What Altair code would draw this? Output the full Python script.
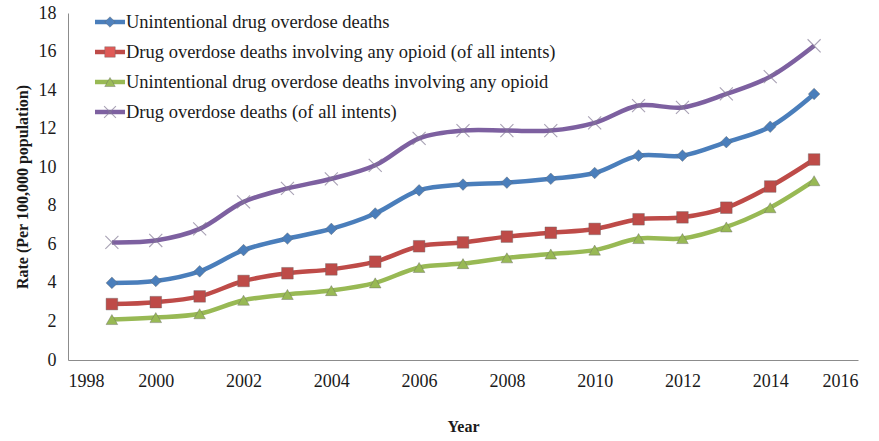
import altair as alt
import pandas as pd

years = list(range(1999, 2016))
series_names = [
    "Unintentional drug overdose deaths",
    "Drug overdose deaths involving any opioid (of all intents)",
    "Unintentional drug overdose deaths involving any opioid",
    "Drug overdose deaths (of all intents)",
]
unintentional = [4.0, 4.1, 4.6, 5.7, 6.3, 6.8, 7.6, 8.8, 9.1, 9.2, 9.4, 9.7, 10.6, 10.6, 11.3, 12.1, 13.8]
opioid_all = [2.9, 3.0, 3.3, 4.1, 4.5, 4.7, 5.1, 5.9, 6.1, 6.4, 6.6, 6.8, 7.3, 7.4, 7.9, 9.0, 10.4]
unint_opioid = [2.1, 2.2, 2.4, 3.1, 3.4, 3.6, 4.0, 4.8, 5.0, 5.3, 5.5, 5.7, 6.3, 6.3, 6.9, 7.9, 9.3]
all_intents = [6.1, 6.2, 6.8, 8.2, 8.9, 9.4, 10.1, 11.5, 11.9, 11.9, 11.9, 12.3, 13.2, 13.1, 13.8, 14.7, 16.3]
x_ticks = list(range(1998, 2017, 2))
y_ticks = list(range(0, 19, 2))

line_colors = ["#4a7ebb", "#be4b48", "#98b954", "#7d60a0"]
marker_fill = ["#4f81bd", "#e05a57", "#9bbb59", "#7d60a0"]
marker_shapes = ["diamond", "square", "triangle-up", "M-1,-1L1,1M-1,1L1,-1"]

rows = []
for name, vals in zip(series_names, [unintentional, opioid_all, unint_opioid, all_intents]):
    for y, v in zip(years, vals):
        rows.append({"year": y, "rate": v, "series": name})
df = pd.DataFrame(rows)

FONT = "Liberation Serif"
color_line = alt.Color("series:N", scale=alt.Scale(domain=series_names, range=line_colors), legend=None)
color_fill = alt.Color("series:N", scale=alt.Scale(domain=series_names, range=marker_fill), legend=None)
shape_scale = alt.Scale(domain=series_names[:3], range=marker_shapes[:3])

x_axis = alt.Axis(values=x_ticks, format="d", title="Year",
                  grid=False, ticks=False, labelPadding=12, titlePadding=28,
                  labelOverlap=False)
y_axis = alt.Axis(values=y_ticks, format="d", title="Rate (Per 100,000 population)",
                  grid=False, ticks=False, labelPadding=12, titlePadding=8,
                  labelOverlap=False)
x_enc = alt.X("year:Q", scale=alt.Scale(domain=[1998, 2016], nice=False, zero=False), axis=x_axis)
y_enc = alt.Y("rate:Q", scale=alt.Scale(domain=[0, 18], nice=False), axis=y_axis)

base = alt.Chart(df)
lines = base.mark_line(interpolate="catmull-rom", strokeWidth=4.5).encode(
    x=x_enc, y=y_enc, color=color_line, detail="series:N")
pts = base.transform_filter(
    alt.FieldOneOfPredicate(field="series", oneOf=series_names[:3])
).mark_point(filled=True, size=135, strokeWidth=0.8, stroke="#666666", strokeOpacity=0.5, opacity=1).encode(
    x=x_enc, y=y_enc, color=color_fill,
    shape=alt.Shape("series:N", scale=shape_scale, legend=None))
crosses = base.transform_filter(
    alt.FieldEqualPredicate(field="series", equal=series_names[3])
).mark_point(shape=marker_shapes[3], filled=False, size=170, strokeWidth=1.1, color="#857b96").encode(
    x=x_enc, y=y_enc)

# legend rows (one small layer group per series)
legend_layers = []
for i, name in enumerate(series_names):
    ldf = pd.DataFrame({"series": [name]})
    lb = alt.Chart(ldf)
    ypos = alt.value(9 + 30 * i)
    legend_layers.append(lb.mark_rule(strokeWidth=4.5, color=line_colors[i]).encode(
        x=alt.value(27), x2=alt.value(57), y=ypos))
    if i < 3:
        legend_layers.append(lb.mark_point(filled=True, size=110, strokeWidth=0.8, stroke="#666666",
                                           strokeOpacity=0.5, opacity=1, shape=marker_shapes[i],
                                           fill=marker_fill[i]).encode(x=alt.value(42), y=ypos))
    else:
        legend_layers.append(lb.mark_point(shape=marker_shapes[3], filled=False, size=140, strokeWidth=1.1,
                                           color="#857b96").encode(x=alt.value(42), y=ypos))
    legend_layers.append(lb.mark_text(align="left", baseline="middle", font=FONT, fontSize=18.5,
                                      color="#1a1a1a").encode(x=alt.value(58), y=ypos, text="series:N"))

chart = alt.layer(lines, pts, crosses, *legend_layers).properties(
    width=790, height=347,
    background="white",
    autosize=alt.AutoSizeParams(type="none"),
    padding={"left": 68, "top": 13, "right": 21, "bottom": 81},
).configure_view(stroke=None).configure_axis(
    labelFont=FONT, labelFontSize=18, labelColor="#1a1a1a",
    titleFont=FONT, titleFontSize=16, titleFontWeight="bold", titleColor="#1a1a1a",
    domainColor="#8c8c8c", domainWidth=1,
)

chart.save("out.html", embed_options={"renderer": "svg", "actions": False})
